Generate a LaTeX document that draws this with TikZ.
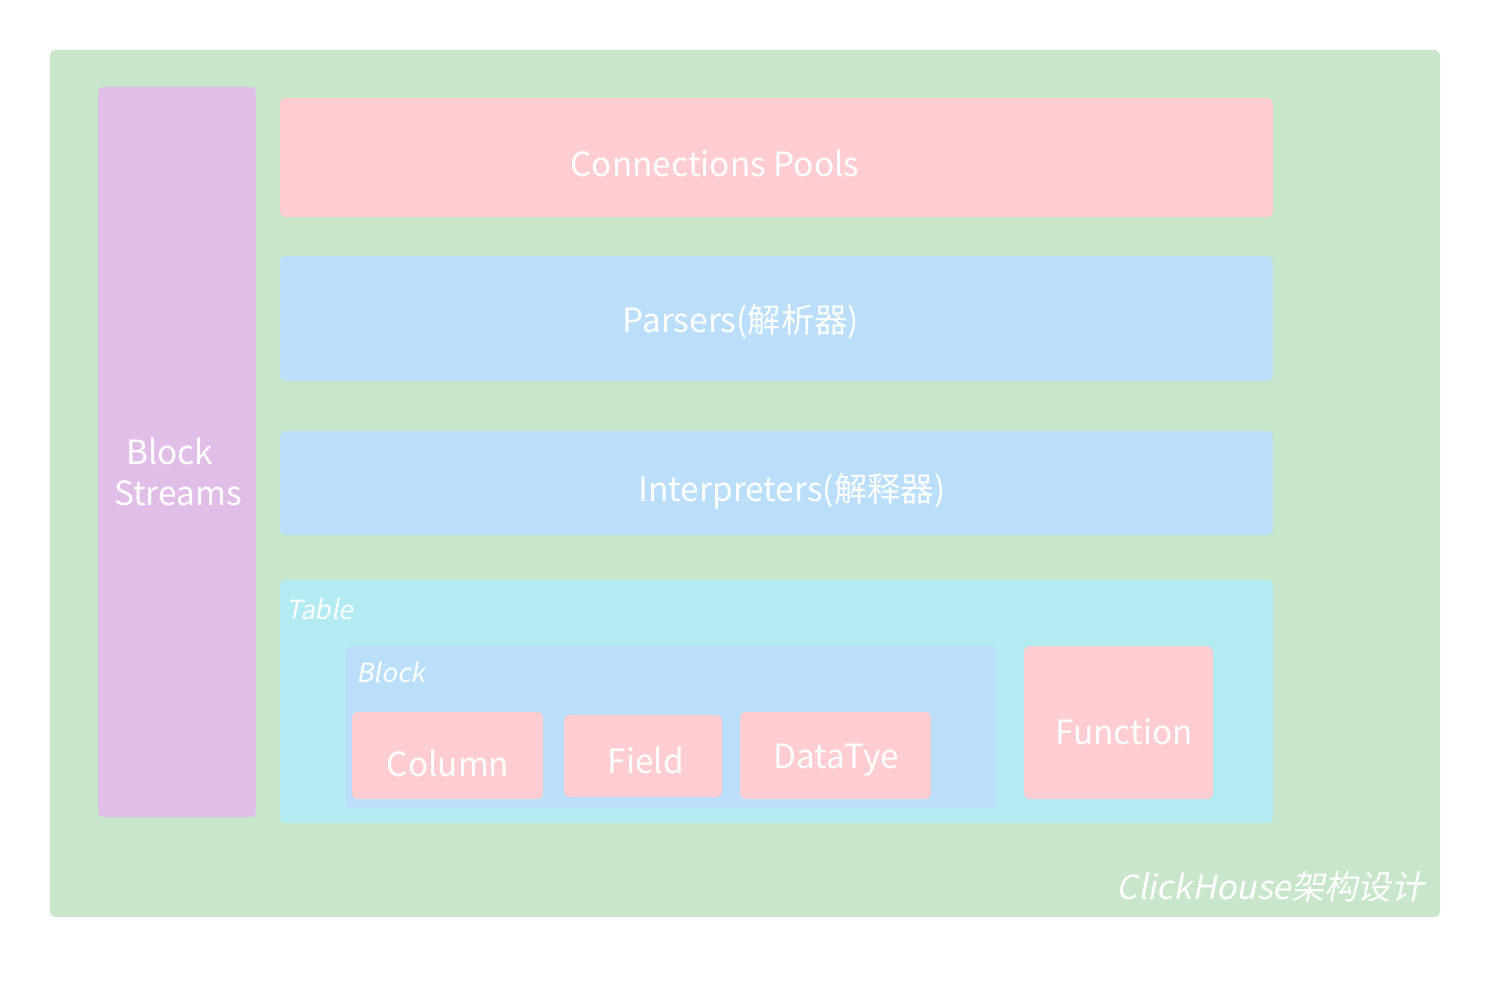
\documentclass[tikz,border=0pt]{standalone}
\usepackage{fontspec}
\setmainfont{Noto Sans CJK SC}
\newfontfamily\slanted[FakeSlant=0.2]{Noto Sans CJK SC}
\usetikzlibrary{positioning}
\definecolor{bggreen}{HTML}{C8E6C9}
\definecolor{lilac}{HTML}{E1BEE7}
\definecolor{rose}{HTML}{FFCDD2}
\definecolor{sky}{HTML}{BBDEFB}
\definecolor{aqua}{HTML}{B2EBF2}

\begin{document}
\begin{tikzpicture}[
    x=0.02cm, y=-0.02cm,
    panel/.style={rounded corners=3pt},
    label/.style={text=white, font=\fontsize{19}{23}\selectfont, inner sep=0pt},
    tag/.style={text=white, font=\slanted\fontsize{15}{18}\selectfont, inner sep=0pt, anchor=west}
]

% Frame
\useasboundingbox (0,0) rectangle (1490,980);
\fill[white] (0,0) rectangle (1490,980);
\fill[bggreen, panel] (50,50) rectangle (1440,917);

% Layers
\fill[lilac, panel] (98,87) rectangle (256,817);
\fill[rose, panel] (280,98) rectangle (1273,217);
\fill[sky, panel] (280,256) rectangle (1273,381);
\fill[sky, panel] (280,431) rectangle (1273,535);
\fill[aqua, panel] (280,580) rectangle (1273,823);
\fill[sky, panel] (346,646) rectangle (996,809);
\fill[rose, panel] (352,712) rectangle (543,799);
\fill[rose, panel] (564,715) rectangle (722,797);
\fill[rose, panel] (740,712) rectangle (931,799);
\fill[rose, panel] (1024,646) rectangle (1213,799);

% Texts
\node[label, align=center] (streams) at (178,472) {\hspace*{-0.5em}Block\\Streams};
\node[label] (pools) at (715,163) {Connections Pools};
\node[label] (parsers) at (741,322) {Parsers(解析器)};
\node[label] (interp) at (792,491) {Interpreters(解释器)};
\node[tag] (table) at (286,609) {Table};
\node[tag] (block) at (356,672) {Block};
\node[label] (column) at (448,763) {Column};
\node[label] (field) at (646,760) {Field};
\node[label] (datatye) at (836,760) {DataTye};
\node[label] (function) at (1124,732) {Function};
\node[tag, anchor=east, font=\slanted\fontsize{19}{23}\selectfont] (title) at (1425,887) {ClickHouse架构设计};

\end{tikzpicture}
\end{document}
